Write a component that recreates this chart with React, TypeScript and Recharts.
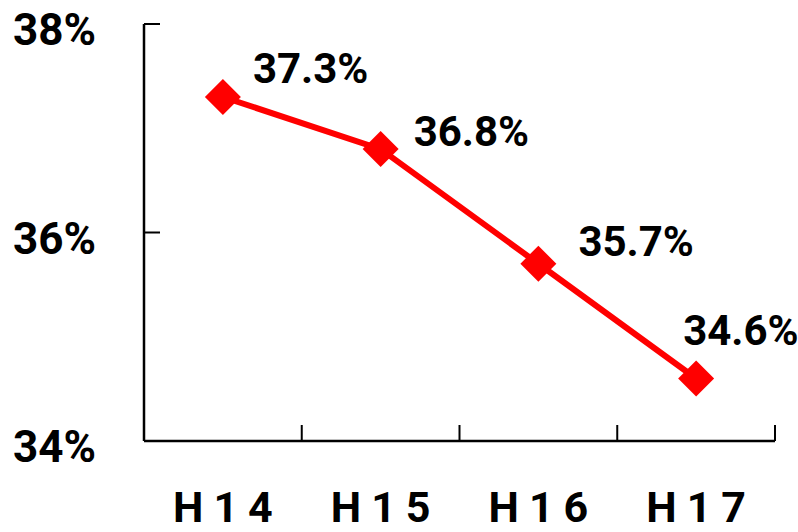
import React from 'react';
import { LineChart, Line, XAxis, YAxis, LabelList } from 'recharts';

const YEARS = ['H14', 'H15', 'H16', 'H17'];
const RATES = [37.3, 36.8, 35.7, 34.6];
const Y_TICKS = [34, 36, 38];

// hand placement of each value label relative to its point
const LABEL_DX = [30, 33, 40, -13];
const LABEL_DY = [-14, -3, -8, -33];

const data = YEARS.map((year, i) => ({ year, rate: RATES[i] }));

const FONT = 'Roboto, "DejaVu Sans", sans-serif';
const RED = '#ff0000';

const Diamond = (props: any) => {
  const { cx, cy } = props;
  if (cx == null || cy == null) return null;
  const r = 18;
  return (
    <polygon
      points={`${cx},${cy - r} ${cx + r},${cy} ${cx},${cy + r} ${cx - r},${cy}`}
      fill={RED}
    />
  );
};

// category label below the axis plus an inward tick on the band's right edge
const YearTick = (props: any) => {
  const { x, y, payload } = props;
  const edge = x + (payload.offset || 0);
  return (
    <g>
      <line x1={edge} y1={y} x2={edge} y2={y - 16} stroke="#000" strokeWidth={2} />
      <text
        x={x + 5}
        y={y + 81}
        textAnchor="middle"
        fontFamily={FONT}
        fontWeight={700}
        fontSize={43}
        letterSpacing={10}
        fill="#000"
      >
        {payload.value}
      </text>
    </g>
  );
};

const PercentTick = (props: any) => {
  const { x, y, payload } = props;
  return (
    <g>
      <line x1={x} y1={y} x2={x + 16} y2={y} stroke="#000" strokeWidth={2} />
      <text
        x={x - 48}
        y={y + 21}
        textAnchor="end"
        fontFamily={FONT}
        fontWeight={700}
        fontSize={44}
        fill="#000"
      >
        {`${payload.value}%`}
      </text>
    </g>
  );
};

const ValueLabel = (props: any) => {
  const { x, y, value, index } = props;
  return (
    <text
      x={x + LABEL_DX[index]}
      y={y + LABEL_DY[index]}
      textAnchor="start"
      fontFamily={FONT}
      fontWeight={700}
      fontSize={42}
      fill="#000"
    >
      {`${Number(value).toFixed(1)}%`}
    </text>
  );
};

export default function App() {
  return (
    <div style={{ position: 'absolute', left: 0, top: 0, width: 798, height: 532, background: '#fff' }}>
      <LineChart width={798} height={532} data={data} margin={{ top: 24, right: 23, bottom: 0, left: 0 }}>
        <XAxis
          dataKey="year"
          scale="band"
          height={91}
          interval={0}
          tickLine={false}
          tickSize={0}
          tickMargin={0}
          axisLine={{ stroke: '#000', strokeWidth: 2.5 }}
          tick={<YearTick />}
        />
        <YAxis
          width={144}
          domain={[34, 38]}
          ticks={Y_TICKS}
          interval={0}
          tickLine={false}
          tickSize={0}
          tickMargin={0}
          axisLine={{ stroke: '#000', strokeWidth: 2.5 }}
          tick={<PercentTick />}
        />
        <Line
          type="linear"
          dataKey="rate"
          stroke={RED}
          strokeWidth={6}
          dot={<Diamond />}
          activeDot={false}
          isAnimationActive={false}
        >
          <LabelList dataKey="rate" content={<ValueLabel />} />
        </Line>
      </LineChart>
    </div>
  );
}
